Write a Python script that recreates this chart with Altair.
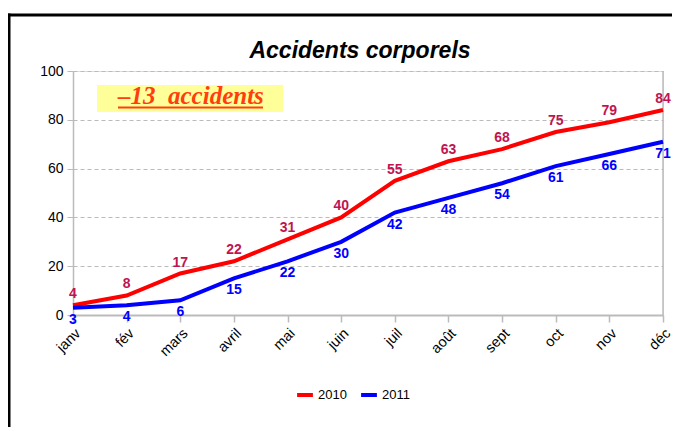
import altair as alt
import pandas as pd

months = ["janv", "fév", "mars", "avril", "mai", "juin", "juil", "août", "sept", "oct", "nov", "déc"]
v2010 = [4, 8, 17, 22, 31, 40, 55, 63, 68, 75, 79, 84]
v2011 = [3, 4, 6, 15, 22, 30, 42, 48, 54, 61, 66, 71]
series = ["2010", "2011"]
line_colors = ["#FF0000", "#0000FF"]
title_text = "Accidents corporels"
note_text = "\u201313\u00a0 accidents"

rows = []
for m, a in zip(months, v2010):
    rows.append({"mois": m, "annee": "2010", "n": a})
for m, b in zip(months, v2011):
    rows.append({"mois": m, "annee": "2011", "n": b})
df = pd.DataFrame(rows)

W, H = 590, 244
PR, PB = 9, 112

x = alt.X("mois:N", sort=months, scale=alt.Scale(type="point", padding=0),
          axis=alt.Axis(title=None, labelAngle=-45, labelFontSize=14.5, labelColor="#000000",
                        labelFont="Liberation Sans", domainColor="#BBBBBB", domainWidth=2,
                        tickColor="#BBBBBB", tickSize=7, tickWidth=1.5, grid=False,
                        labelPadding=4))
y = alt.Y("n:Q", scale=alt.Scale(domain=[0, 100]),
          axis=alt.Axis(title=None, values=[0, 20, 40, 60, 80, 100], labelFontSize=14,
                        labelColor="#000000", labelFont="Liberation Sans",
                        domainColor="#BBBBBB", domainWidth=1.5, tickColor="#BBBBBB",
                        tickSize=6, gridColor="#BBBBBB", gridDash=[4, 3], labelPadding=4))

color = alt.Color("annee:N", scale=alt.Scale(domain=series, range=line_colors),
                  legend=alt.Legend(title=None, orient="none", direction="horizontal",
                                    legendX=222, legendY=314, symbolType="stroke",
                                    symbolStrokeWidth=4, symbolSize=250, labelFontSize=13,
                                    labelFont="Liberation Sans", labelColor="#000000",
                                    columnPadding=6, labelOffset=3))

base = alt.Chart(df)

one = pd.DataFrame({"k": [0]})
frame_left = alt.Chart(one).mark_rule(color="#000000", strokeWidth=3).encode(
    x=alt.value(-64), y=alt.value(-57.5), y2=alt.value(H + PB))
frame_top = alt.Chart(one).mark_rule(color="#000000", strokeWidth=3).encode(
    x=alt.value(-65.5), x2=alt.value(W + PR), y=alt.value(-56))

right_border = alt.Chart(one).mark_rule(color="#BBBBBB", strokeWidth=1.5).encode(
    x=alt.value(W), y=alt.value(0), y2=alt.value(H))

lines = base.mark_line(strokeWidth=4).encode(x=x, y=y, color=color)

lab10 = base.transform_filter(alt.datum.annee == "2010").mark_text(
    dy=-11, fontSize=14, fontWeight="bold", font="Liberation Sans", color="#C0144F"
).encode(x=x, y=y, text="n:Q")

lab11 = base.transform_filter(alt.datum.annee == "2011").mark_text(
    dy=12, fontSize=14, fontWeight="bold", font="Liberation Sans", color="#0000FF"
).encode(x=x, y=y, text="n:Q")

note_box = alt.Chart(one).mark_rect(fill="#FFFF99").encode(
    x=alt.value(24), x2=alt.value(210), y=alt.value(14), y2=alt.value(41))

note = alt.Chart(pd.DataFrame({"t": [note_text]})).mark_text(
    font="Liberation Serif", fontSize=25, fontStyle="italic", fontWeight="bold",
    color="#FF3D0F", align="left", baseline="alphabetic"
).encode(x=alt.value(45), y=alt.value(33), text="t:N")

underline = alt.Chart(one).mark_rule(color="#FF3D0F", strokeWidth=2).encode(
    x=alt.value(45), x2=alt.value(190), y=alt.value(36.5))

title = alt.Chart(pd.DataFrame({"t": [title_text]})).mark_text(
    font="Liberation Sans", fontSize=23, fontStyle="italic", fontWeight="bold",
    color="#000000", align="center", baseline="alphabetic"
).encode(x=alt.value(287), y=alt.value(-13), text="t:N")

chart = alt.layer(
    frame_left, frame_top, note_box, right_border, lines, lab10, lab11, note, underline, title
).properties(
    width=W, height=H,
    autosize=alt.AutoSizeParams(type="none"),
    padding={"left": 65, "top": 63, "right": PR, "bottom": PB},
).configure_view(stroke=None).configure(background="#FFFFFF")

chart.save("out.html", embed_options={"renderer": "svg", "actions": False})
